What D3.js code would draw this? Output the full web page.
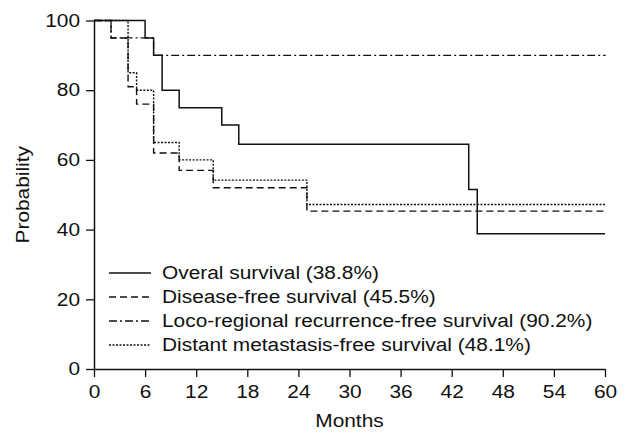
<!DOCTYPE html>
<html>
<head>
<meta charset="utf-8">
<script src="https://cdn.jsdelivr.net/npm/d3@7"></script>
<style>
  body { margin: 0; background: #fff; }
  text { font-family: "Liberation Sans", Arial, sans-serif; fill: #111; }
</style>
</head>
<body>
<div id="chart"></div>
<script>
// survival curves, months at which each step happens and probability after it
var osMonths   = [0, 6, 7, 8, 10, 15, 17, 44, 45, 60];
var osProb     = [100, 95, 90, 80, 75, 70, 64.5, 51.5, 38.8, 38.8];
var dfsMonths  = [0, 2, 4, 5, 7, 10, 14, 25, 60];
var dfsProb    = [100, 95, 81, 76, 62, 57, 52, 45.3, 45.3];
var lrfsMonths = [0, 2, 7, 60];
var lrfsProb   = [100, 95, 90, 89.8];
var dmfsMonths = [0, 4, 5, 7, 10, 14, 25, 60];
var dmfsProb   = [100, 85, 80, 65, 60, 54.2, 47.2, 47.2];

var legendLabels = [
  "Overal survival (38.8%)",
  "Disease-free survival (45.5%)",
  "Loco-regional recurrence-free survival (90.2%)",
  "Distant metastasis-free survival (48.1%)"
];
var xTicks = [0, 6, 12, 18, 24, 30, 36, 42, 48, 54, 60];
var yTicks = [0, 20, 40, 60, 80, 100];

var W = 629, H = 437;
var SX = 1.16; // the scan is a bit wider than tall, stretch text the same way

var svg = d3.select("#chart")
  .append("svg")
  .attr("width", W)
  .attr("height", H);

var x = d3.scaleLinear().domain([0, 60]).range([94, 605]);
var y = d3.scaleLinear().domain([0, 100]).range([369, 20.5]);

function zip(ms, ps) {
  return ms.map(function(m, i) { return [m, ps[i]]; });
}

var series = [
  { data: zip(osMonths, osProb),     dash: null,          w: 1.5 },
  { data: zip(dfsMonths, dfsProb),   dash: "7,4",         w: 1.4 },
  { data: zip(lrfsMonths, lrfsProb), dash: "8,3,2,3",     w: 1.3 },
  { data: zip(dmfsMonths, dmfsProb), dash: "2,1.5",       w: 1.4 }
];

var line = d3.line()
  .x(function(d) { return x(d[0]); })
  .y(function(d) { return y(d[1]); })
  .curve(d3.curveStepAfter);

// axes
var xAxis = svg.append("g")
  .attr("transform", "translate(0," + y(0) + ")")
  .call(d3.axisBottom(x).tickValues(xTicks).tickSize(8).tickPadding(8).tickSizeOuter(0));
var yAxis = svg.append("g")
  .attr("transform", "translate(" + x(0) + ",0)")
  .call(d3.axisLeft(y).tickValues(yTicks).tickSize(8).tickPadding(6).tickSizeOuter(0));

[xAxis, yAxis].forEach(function(a) {
  a.selectAll(".domain").attr("stroke", "#111").attr("stroke-width", 1.5);
  a.selectAll(".tick line").attr("stroke", "#111").attr("stroke-width", 1.3);
  a.selectAll(".tick text")
    .style("font-size", "18px")
    .attr("fill", "#111")
    .each(function() {
      var t = d3.select(this);
      var tx = +t.attr("x") || 0, ty = +t.attr("y") || 0;
      t.attr("x", 0).attr("y", 0)
        .attr("transform", "translate(" + tx + "," + ty + ") scale(" + SX + ",1)");
    });
});

// curves
svg.append("g").selectAll("path.curve")
  .data(series)
  .enter().append("path")
  .attr("class", "curve")
  .attr("d", function(d) { return line(d.data); })
  .attr("fill", "none")
  .attr("stroke", "#111")
  .attr("stroke-width", function(d) { return d.w; })
  .attr("stroke-dasharray", function(d) { return d.dash; });

// legend
var lg = svg.append("g").attr("transform", "translate(109,273)");
var rows = lg.selectAll("g.row")
  .data(series)
  .enter().append("g")
  .attr("class", "row")
  .attr("transform", function(d, i) { return "translate(0," + i * 24 + ")"; });

rows.append("line")
  .attr("x1", 0).attr("x2", 42)
  .attr("stroke", "#111")
  .attr("stroke-width", function(d) { return d.w; })
  .attr("stroke-dasharray", function(d) { return d.dash; });

rows.append("text")
  .attr("transform", "translate(53,0) scale(" + SX + ",1)")
  .attr("dy", "0.35em")
  .style("font-size", "18px")
  .text(function(d, i) { return legendLabels[i]; });

// axis titles
svg.append("text")
  .attr("transform", "translate(" + (x(30)) + ",427) scale(" + SX + ",1)")
  .attr("text-anchor", "middle")
  .style("font-size", "18px")
  .text("Months");

svg.append("text")
  .attr("transform", "translate(29," + y(50) + ") rotate(-90) scale(" + SX + ",1)")
  .attr("text-anchor", "middle")
  .style("font-size", "18px")
  .text("Probability");
</script>
</body>
</html>
